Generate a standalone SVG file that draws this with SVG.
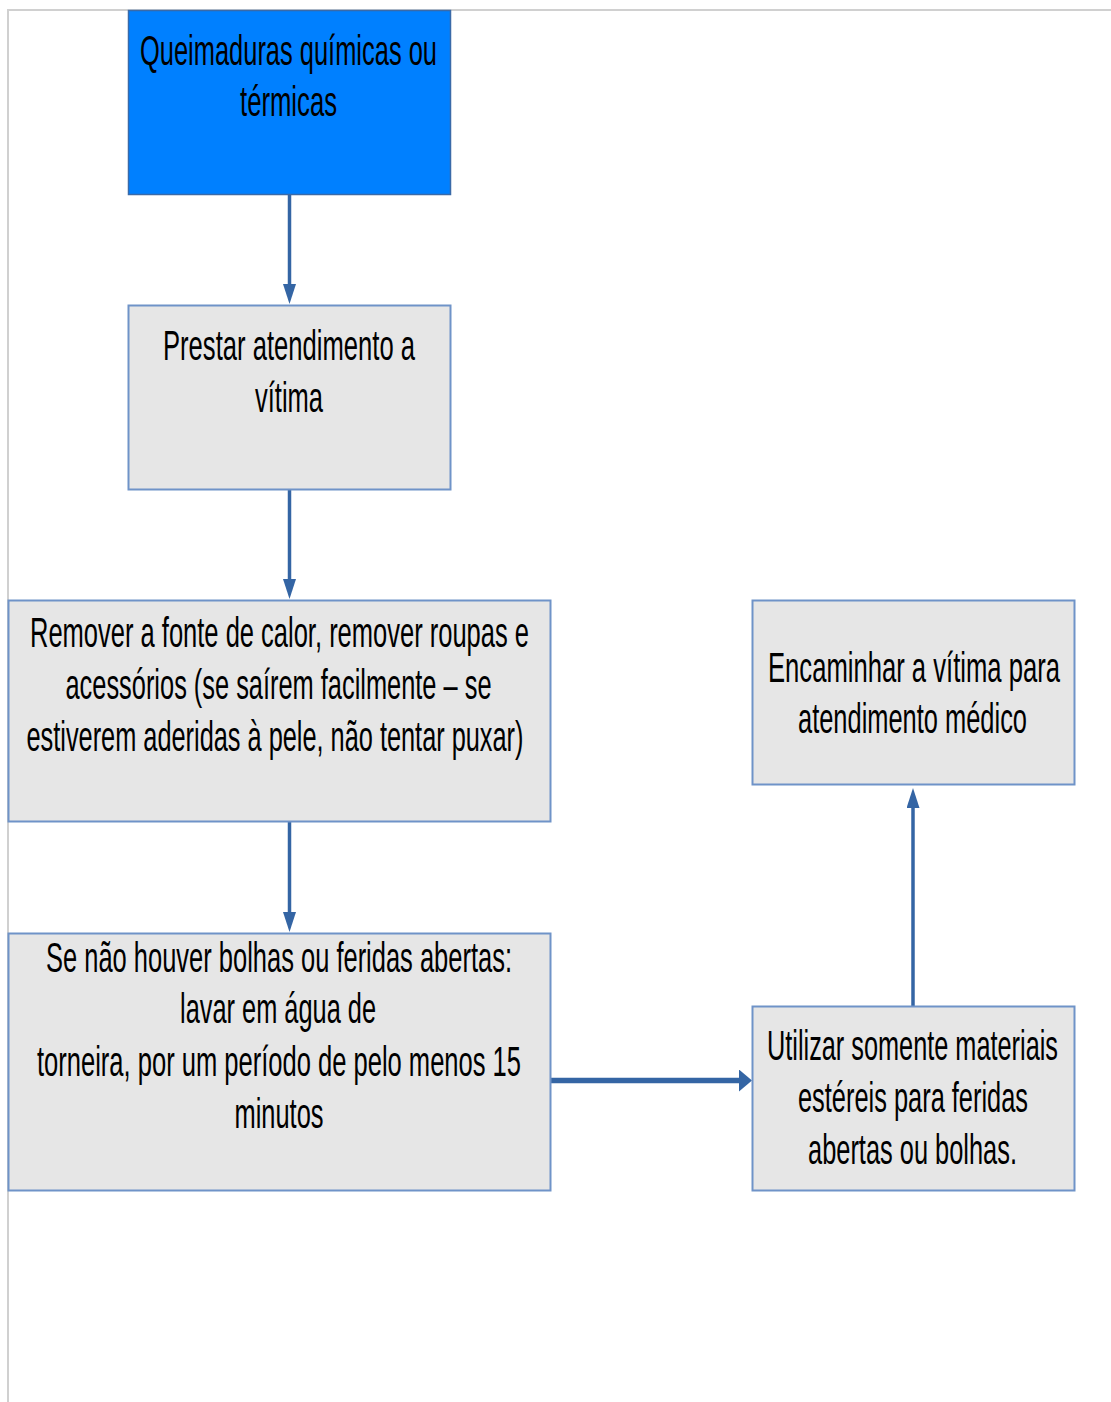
<svg xmlns="http://www.w3.org/2000/svg" width="1111" height="1402" viewBox="0 0 1111 1402">
<style>
.page{stroke:#d0d0d0;stroke-width:2;fill:none}
.box{fill:#e6e6e6;stroke:#6f93c8;stroke-width:2}
.start{fill:#0080ff;stroke:#3a6aa8;stroke-width:1.5}
.t{font-family:"Liberation Sans",Arial,sans-serif;font-size:42px;fill:#000;text-anchor:middle}
.c{stroke:#3465a4;fill:none}
.v{stroke-width:3.5}
.h{stroke-width:5.5}
</style>
<defs>
<marker id="av" markerUnits="userSpaceOnUse" viewBox="0 0 20 13" refX="1" refY="6.5" markerWidth="20" markerHeight="13" orient="auto">
<path d="M0,0 L20,6.5 L0,13 z" fill="#3465a4"/>
</marker>
<marker id="ah" markerUnits="userSpaceOnUse" viewBox="0 0 13 22" refX="1" refY="11" markerWidth="13" markerHeight="22" orient="auto">
<path d="M0,0 L13,11 L0,22 z" fill="#3465a4"/>
</marker>
</defs>
<rect width="1111" height="1402" fill="#fff"/>
<path class="page" d="M8,1402 V10 H1111"/>

<g id="connectors">
<line class="c v" x1="289.5" y1="195" x2="289.5" y2="285" marker-end="url(#av)"/>
<line class="c v" x1="289.5" y1="490" x2="289.5" y2="580" marker-end="url(#av)"/>
<line class="c v" x1="289.5" y1="822" x2="289.5" y2="913" marker-end="url(#av)"/>
<line class="c h" x1="551" y1="1080.5" x2="740" y2="1080.5" marker-end="url(#ah)"/>
<line class="c v" x1="913" y1="1006" x2="913" y2="807" marker-end="url(#av)"/>
</g>

<g id="n1">
<rect class="start" x="128.5" y="10.5" width="322" height="184"/>
<text class="t" x="288.5" y="65" textLength="297" lengthAdjust="spacingAndGlyphs">Queimaduras químicas ou</text>
<text class="t" x="288.5" y="116" textLength="97" lengthAdjust="spacingAndGlyphs">térmicas</text>
</g>

<g id="n2">
<rect class="box" x="128.5" y="305.5" width="322" height="184"/>
<text class="t" x="289" y="360" textLength="252" lengthAdjust="spacingAndGlyphs">Prestar atendimento a</text>
<text class="t" x="289" y="412" textLength="68" lengthAdjust="spacingAndGlyphs">vítima</text>
</g>

<g id="n3">
<rect class="box" x="8.5" y="600.5" width="542" height="221"/>
<text class="t" x="279.5" y="647" textLength="499" lengthAdjust="spacingAndGlyphs">Remover a fonte de calor, remover roupas e</text>
<text class="t" x="278.5" y="699" textLength="426" lengthAdjust="spacingAndGlyphs">acessórios (se saírem facilmente – se</text>
<text class="t" x="275" y="751" textLength="497" lengthAdjust="spacingAndGlyphs">estiverem aderidas à pele, não tentar puxar)</text>
</g>

<g id="n4">
<rect class="box" x="8.5" y="933.5" width="542" height="257"/>
<text class="t" x="279" y="972" textLength="466" lengthAdjust="spacingAndGlyphs">Se não houver bolhas ou feridas abertas:</text>
<text class="t" x="278" y="1023" textLength="196" lengthAdjust="spacingAndGlyphs">lavar em água de</text>
<text class="t" x="279" y="1076" textLength="484" lengthAdjust="spacingAndGlyphs">torneira, por um período de pelo menos 15</text>
<text class="t" x="279" y="1128" textLength="89" lengthAdjust="spacingAndGlyphs">minutos</text>
</g>

<g id="n5">
<rect class="box" x="752.5" y="1006.5" width="322" height="184"/>
<text class="t" x="912.5" y="1060" textLength="291" lengthAdjust="spacingAndGlyphs">Utilizar somente materiais</text>
<text class="t" x="913" y="1112" textLength="230" lengthAdjust="spacingAndGlyphs">estéreis para feridas</text>
<text class="t" x="912.5" y="1164" textLength="209" lengthAdjust="spacingAndGlyphs">abertas ou bolhas.</text>
</g>

<g id="n6">
<rect class="box" x="752.5" y="600.5" width="322" height="184"/>
<text class="t" x="914" y="682" textLength="292" lengthAdjust="spacingAndGlyphs">Encaminhar a vítima para</text>
<text class="t" x="912.5" y="733" textLength="229" lengthAdjust="spacingAndGlyphs">atendimento médico</text>
</g>
</svg>
